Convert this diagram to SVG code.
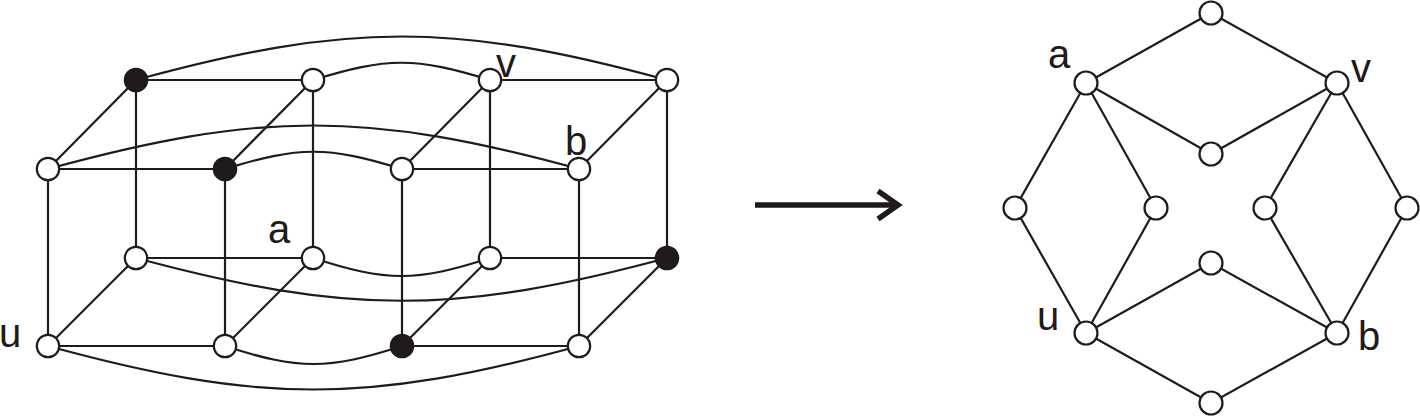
<svg xmlns="http://www.w3.org/2000/svg" width="1420" height="418" viewBox="0 0 1420 418">
<style>
.e{fill:none;stroke:#1f1a1b;stroke-width:2.2}
.n{fill:#fff;stroke:#1f1a1b;stroke-width:2.2}
.f{fill:#1f1a1b;stroke:#1f1a1b;stroke-width:2.2}
.t{font-family:"Liberation Sans",Arial,sans-serif;font-size:40px;fill:#1f1a1b}
.ar{fill:none;stroke:#1f1a1b;stroke-width:5.5}
</style>
<rect width="1420" height="418" fill="#fff"/>
<g id="connectors">
<path class="e" d="M136,80 H313 M490,80 H667"/>
<path class="e" d="M313,80 C387,57 416,57 490,80"/>
<path class="e" d="M136,80 C348,22 455,22 667,80"/>
<path class="e" d="M48,169 H225 M402,169 H579"/>
<path class="e" d="M225,169 C299,146 328,146 402,169"/>
<path class="e" d="M48,169 C260,111 367,111 579,169"/>
<path class="e" d="M136,258 H313 M490,258 H667"/>
<path class="e" d="M313,258 C387,282 416,282 490,258"/>
<path class="e" d="M136,258 C348,315 455,315 667,258"/>
<path class="e" d="M48,346 H225 M402,346 H579"/>
<path class="e" d="M225,346 C299,370 328,370 402,346"/>
<path class="e" d="M48,346 C260,404 367,404 579,346"/>
<path class="e" d="M136,80 L48,169 M313,80 L225,169 M490,80 L402,169 M667,80 L579,169"/>
<path class="e" d="M136,258 L48,346 M313,258 L225,346 M490,258 L402,346 M667,258 L579,346"/>
<path class="e" d="M136,80 V258 M313,80 V258 M490,80 V258 M667,80 V258"/>
<path class="e" d="M48,169 V346 M225,169 V346 M402,169 V346 M579,169 V346"/>
<path class="ar" d="M755,205 H897"/>
<polyline class="ar" points="878,191 898,205 878,219"/>
<path class="e" d="M1211,13 L1086,83 M1211,13 L1337,83"/>
<path class="e" d="M1086,83 L1211,154 L1337,83"/>
<path class="e" d="M1086,83 L1015,208 M1086,83 L1156,208"/>
<path class="e" d="M1337,83 L1265,208 M1337,83 L1407,208"/>
<path class="e" d="M1015,208 L1086,333 M1156,208 L1086,333"/>
<path class="e" d="M1265,208 L1337,333 M1407,208 L1337,333"/>
<path class="e" d="M1086,333 L1211,263 L1337,333"/>
<path class="e" d="M1086,333 L1211,403 L1337,333"/>
</g>
<g id="L_b1"><circle class="f" cx="136" cy="80" r="11.2"/></g>
<g id="L_b2"><circle class="n" cx="313" cy="80" r="11.2"/></g>
<g id="L_v"><circle class="n" cx="490" cy="80" r="11.2"/><text class="t" x="496" y="77">v</text></g>
<g id="L_b4"><circle class="n" cx="667" cy="80" r="11.2"/></g>
<g id="L_f1"><circle class="n" cx="48" cy="169" r="11.2"/></g>
<g id="L_f2"><circle class="f" cx="225" cy="169" r="11.2"/></g>
<g id="L_f3"><circle class="n" cx="402" cy="169" r="11.2"/></g>
<g id="L_b"><circle class="n" cx="579" cy="169" r="11.2"/><text class="t" x="565" y="155">b</text></g>
<g id="L_bb1"><circle class="n" cx="136" cy="258" r="11.2"/></g>
<g id="L_a"><circle class="n" cx="313" cy="258" r="11.2"/><text class="t" x="268" y="243">a</text></g>
<g id="L_bb3"><circle class="n" cx="490" cy="258" r="11.2"/></g>
<g id="L_bb4"><circle class="f" cx="667" cy="258" r="11.2"/></g>
<g id="L_u"><circle class="n" cx="48" cy="346" r="11.2"/><text class="t" x="-1" y="347">u</text></g>
<g id="L_bf2"><circle class="n" cx="225" cy="346" r="11.2"/></g>
<g id="L_bf3"><circle class="f" cx="402" cy="346" r="11.2"/></g>
<g id="L_bf4"><circle class="n" cx="579" cy="346" r="11.2"/></g>
<g id="R_top"><circle class="n" cx="1211" cy="13" r="11.5"/></g>
<g id="R_a"><circle class="n" cx="1086" cy="83" r="11.5"/><text class="t" x="1048" y="68">a</text></g>
<g id="R_v"><circle class="n" cx="1337" cy="83" r="11.5"/><text class="t" x="1351" y="82">v</text></g>
<g id="R_it"><circle class="n" cx="1211" cy="154" r="11.5"/></g>
<g id="R_ol"><circle class="n" cx="1015" cy="208" r="11.5"/></g>
<g id="R_il"><circle class="n" cx="1156" cy="208" r="11.5"/></g>
<g id="R_ir"><circle class="n" cx="1265" cy="208" r="11.5"/></g>
<g id="R_or"><circle class="n" cx="1407" cy="208" r="11.5"/></g>
<g id="R_ib"><circle class="n" cx="1211" cy="263" r="11.5"/></g>
<g id="R_u"><circle class="n" cx="1086" cy="333" r="11.5"/><text class="t" x="1037" y="330">u</text></g>
<g id="R_b"><circle class="n" cx="1337" cy="333" r="11.5"/><text class="t" x="1358" y="350">b</text></g>
<g id="R_bot"><circle class="n" cx="1211" cy="403" r="11.5"/></g>
</svg>
